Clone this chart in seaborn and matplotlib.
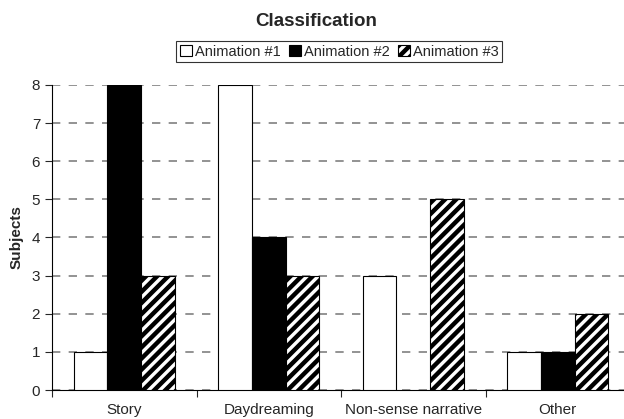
import numpy as np
import pandas as pd
import matplotlib
matplotlib.use("Agg")
import matplotlib.pyplot as plt
import seaborn as sns

categories = ["Story", "Daydreaming", "Non-sense narrative", "Other"]
series = ["Animation #1", "Animation #2", "Animation #3"]
anim1 = [1, 8, 3, 1]
anim2 = [8, 4, 0, 1]
anim3 = [3, 3, 5, 2]

df = pd.DataFrame({
    "category": categories * 3,
    "series": [series[0]] * 4 + [series[1]] * 4 + [series[2]] * 4,
    "value": anim1 + anim2 + anim3,
})

sns.set_style("white")
plt.rcParams["font.family"] = ["Liberation Sans", "DejaVu Sans"]
plt.rcParams["hatch.linewidth"] = 3.2
plt.rcParams["hatch.color"] = "#1a1a1a"

fig = plt.figure(figsize=(6.24, 4.19), dpi=100)
# plot area runs slightly past the right edge of the picture, as in the original
ax = fig.add_axes([52 / 624, 29 / 419, 578 / 624, 305 / 419])

palette = {series[0]: "white", series[1]: "black", series[2]: "white"}
sns.barplot(data=df, x="category", y="value", hue="series", palette=palette,
            edgecolor="black", linewidth=0.8, width=0.7, saturation=1,
            ax=ax, zorder=3)

for cont, name in zip(ax.containers, series):
    for bar in cont:
        if name == series[2]:
            bar.set_hatch("///")
        if bar.get_height() == 0:
            bar.set_visible(False)

ax.set_ylim(0, 8)
ax.set_xlim(-0.5, 3.5)
ax.set_yticks(range(0, 9))
ax.yaxis.grid(True, linestyle=(0, (5, 5)), color="#808080", linewidth=1.2)
ax.set_axisbelow(True)
ax.set_xticks([-0.5, 0.5, 1.5, 2.5, 3.5], minor=False)
ax.set_xticklabels([])
ax.set_xticks(range(4), minor=True)
ax.set_xticklabels(categories, minor=True, fontsize=11)
ax.tick_params(axis="x", which="minor", length=0, pad=9.5)
ax.tick_params(axis="x", which="major", length=5, direction="out", bottom=True, width=0.8)
ax.tick_params(axis="y", length=5, direction="out", left=True, labelsize=11, width=0.8)
for s in ["top", "right"]:
    ax.spines[s].set_visible(False)
for s in ["left", "bottom"]:
    ax.spines[s].set_color("black")
    ax.spines[s].set_linewidth(0.8)

ax.set_xlabel("")
ax.set_ylabel("Subjects", fontsize=11, fontweight="bold", labelpad=6)
fig.suptitle("Classification", fontsize=13.5, fontweight="bold", x=0.506, y=0.97)

leg = ax.legend(loc="upper center", bbox_to_anchor=(0.497, 1.144), ncol=3, frameon=True,
                fancybox=False, edgecolor="black", fontsize=10.5, handlelength=0.8,
                handleheight=0.8, handletextpad=0.2, columnspacing=0.6,
                borderpad=0.25, borderaxespad=0)
leg.get_frame().set_linewidth(0.8)
leg.legend_handles[2].set_hatch("///")

fig.savefig("out.png", dpi=100)
